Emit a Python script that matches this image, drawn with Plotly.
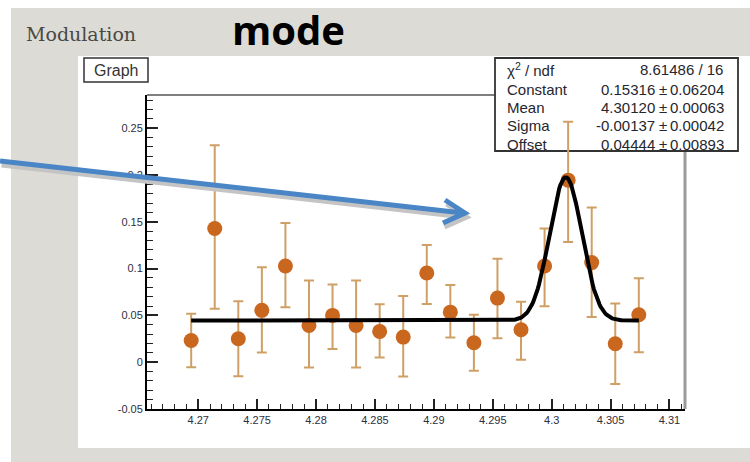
import numpy as np
import plotly.graph_objects as go

# ---------------- data ----------------
x_vals = [4.2694, 4.2714, 4.2734, 4.2754, 4.2774, 4.2794, 4.2814, 4.2834, 4.2854, 4.2874,
          4.2894, 4.2914, 4.2934, 4.2954, 4.2974, 4.2994, 4.3014, 4.3034, 4.3054, 4.3074]
y_vals = [0.0232, 0.1428, 0.0251, 0.0554, 0.1028, 0.0393, 0.0500, 0.0393, 0.0329, 0.0268,
          0.0953, 0.0535, 0.0208, 0.0685, 0.0347, 0.1028, 0.1945, 0.1064, 0.0197, 0.0507]
err_up = [0.0286, 0.089, 0.040, 0.046, 0.046, 0.048, 0.033, 0.048, 0.029, 0.044,
          0.030, 0.029, 0.030, 0.042, 0.030, 0.040, 0.0625, 0.059, 0.043, 0.039]
err_down = [0.0286, 0.0856, 0.040, 0.045, 0.044, 0.045, 0.036, 0.045, 0.028, 0.042,
            0.033, 0.027, 0.030, 0.043, 0.032, 0.043, 0.066, 0.058, 0.043, 0.040]

# fit parameters shown in the stats box
fit_constant = 0.15316
fit_mean = 4.30120
fit_sigma = -0.00137
fit_offset = 0.04444

stat_names = ["Constant", "Mean", "Sigma", "Offset"]
stat_values = ["0.15316", "4.30120", "-0.00137", "0.04444"]
stat_errors = ["0.06204", "0.00063", "0.00042", "0.00893"]
chi2_text = "8.61486 / 16"

x_ticks = [4.27, 4.275, 4.28, 4.285, 4.29, 4.295, 4.3, 4.305, 4.31]
y_ticks = [-0.05, 0, 0.05, 0.1, 0.15, 0.2, 0.25]

# fit curve evaluated from the fit function with the displayed parameters
fx = np.linspace(x_vals[0], x_vals[-1], 400)
fy = fit_offset + fit_constant * np.exp(-0.5 * ((fx - fit_mean) / fit_sigma) ** 2)

# ---------------- layout geometry (pixels) ----------------
W, H = 750, 462
L, R, T, B = 147, 685, 95, 409
PW, PH = R - L, B - T


def px(x):
    return (x - L) / PW


def py(y):
    return (B - y) / PH


fig = go.Figure()

fig.add_trace(go.Scatter(
    x=x_vals, y=y_vals, mode="markers",
    marker=dict(color="#c9671f", size=15, line=dict(width=0)),
    error_y=dict(type="data", array=err_up, arrayminus=err_down,
                 color="#cfa066", thickness=2, width=5),
    showlegend=False, hoverinfo="skip", cliponaxis=False,
))
fig.add_trace(go.Scatter(
    x=fx, y=fy, mode="lines", line=dict(color="black", width=4),
    showlegend=False, hoverinfo="skip",
))

shapes = []
# white areas over the grey paper
for (x0, y0, x1, y1) in [(0, 0, W, 8), (0, 0, 11, H), (78, 56, W, 448)]:
    shapes.append(dict(type="rect", xref="paper", yref="paper", layer="below",
                       x0=px(x0), x1=px(x1), y0=py(y1), y1=py(y0),
                       fillcolor="white", line=dict(width=0)))
# frame (below the stats box)
shapes.append(dict(type="line", xref="paper", yref="paper", layer="below", x0=1, x1=1, y0=0, y1=1,
                   line=dict(color="#9a9a9a", width=3)))
shapes.append(dict(type="line", xref="paper", yref="paper", layer="below", x0=0, x1=1, y0=1, y1=1,
                   line=dict(color="#555555", width=1.5)))
# Graph title box
shapes.append(dict(type="rect", xref="paper", yref="paper",
                   x0=px(84), x1=px(148), y0=py(82), y1=py(58),
                   fillcolor="white", line=dict(color="#333333", width=1.5)))
# stats box (drawn under the data so the peak error bar crosses it)
shapes.append(dict(type="rect", xref="paper", yref="paper", layer="below",
                   x0=px(495), x1=px(738), y0=py(151), y1=py(58),
                   fillcolor="white", line=dict(color="#333333", width=1.8)))

# blue arrow with grey shadow
def arrow_path(dx, dy):
    pts_shaft = [(0 + dx, 161 + dy), (463 + dx, 213 + dy)]
    pts_head = [(445 + dx, 200 + dy), (465 + dx, 213 + dy), (443 + dx, 223 + dy)]
    p = "M {:.4f} {:.4f} L {:.4f} {:.4f} ".format(px(pts_shaft[0][0]), py(pts_shaft[0][1]),
                                                  px(pts_shaft[1][0]), py(pts_shaft[1][1]))
    p += "M {:.4f} {:.4f} L {:.4f} {:.4f} L {:.4f} {:.4f}".format(
        px(pts_head[0][0]), py(pts_head[0][1]), px(pts_head[1][0]), py(pts_head[1][1]),
        px(pts_head[2][0]), py(pts_head[2][1]))
    return p


shapes.append(dict(type="path", xref="paper", yref="paper", path=arrow_path(1.5, 4),
                   line=dict(color="#c4c4c4", width=5)))
shapes.append(dict(type="path", xref="paper", yref="paper", path=arrow_path(0, 0),
                   line=dict(color="#4a86c6", width=5)))

ann = []
ann.append(dict(text="Modulation", xref="paper", yref="paper", x=px(24), y=py(34),
                xanchor="left", yanchor="middle", showarrow=False,
                font=dict(family="DejaVu Serif", size=19, color="#4a4944")))
ann.append(dict(text="<b>mode</b>", xref="paper", yref="paper", x=px(230), y=py(30),
                xanchor="left", yanchor="middle", showarrow=False,
                font=dict(family="Open Sans", size=40, color="black")))
ann.append(dict(text="Graph", xref="paper", yref="paper", x=px(116), y=py(70.5),
                xanchor="center", yanchor="middle", showarrow=False,
                font=dict(family="Liberation Sans", size=16, color="#333333")))

sfont = dict(family="Liberation Sans", size=15, color="#26262e")
row_y = [70, 89, 107, 125.5, 144]
ann.append(dict(text="χ<sup>2</sup> / ndf", xref="paper", yref="paper", x=px(505), y=py(row_y[0]),
                xanchor="left", yanchor="middle", showarrow=False, font=sfont))
ann.append(dict(text=chi2_text, xref="paper", yref="paper", x=px(725), y=py(row_y[0]),
                xanchor="right", yanchor="middle", showarrow=False, font=sfont))
for i, name in enumerate(stat_names):
    yy = py(row_y[i + 1])
    ann.append(dict(text=name, xref="paper", yref="paper", x=px(505), y=yy,
                    xanchor="left", yanchor="middle", showarrow=False, font=sfont))
    ann.append(dict(text=stat_values[i], xref="paper", yref="paper", x=px(657), y=yy,
                    xanchor="right", yanchor="middle", showarrow=False, font=sfont))
    ann.append(dict(text="±", xref="paper", yref="paper", x=px(663), y=yy,
                    xanchor="center", yanchor="middle", showarrow=False, font=sfont))
    ann.append(dict(text=stat_errors[i], xref="paper", yref="paper", x=px(726), y=yy,
                    xanchor="right", yanchor="middle", showarrow=False, font=sfont))

tick_font = dict(family="Liberation Sans", size=11, color="#2e2e40")
fig.update_layout(
    width=W, height=H,
    margin=dict(l=L, r=W - R, t=T, b=H - B, pad=0),
    paper_bgcolor="#dcdbd6", plot_bgcolor="white",
    shapes=shapes, annotations=ann,
    xaxis=dict(range=[4.26565, 4.31132], tickvals=x_ticks, ticktext=[str(v) for v in x_ticks],
               ticks="inside", ticklen=10, tickwidth=1.5, tickcolor="#222",
               minor=dict(dtick=0.001, tick0=4.27, ticks="inside", ticklen=5, tickcolor="#222", tickwidth=1.2),
               showline=True, linecolor="black", linewidth=2, showgrid=False, zeroline=False,
               tickfont=tick_font),
    yaxis=dict(range=[-0.05, 0.2855], tickvals=y_ticks,
               ticktext=["-0.05", "0", "0.05", "0.1", "0.15", "0.2", "0.25"],
               ticks="inside", ticklen=11, tickwidth=1.5, tickcolor="#222",
               minor=dict(dtick=0.01, tick0=0, ticks="inside", ticklen=6, tickcolor="#222", tickwidth=1.2),
               showline=True, linecolor="black", linewidth=2, showgrid=False, zeroline=False,
               tickfont=tick_font),
)

fig.write_html("out.html")
